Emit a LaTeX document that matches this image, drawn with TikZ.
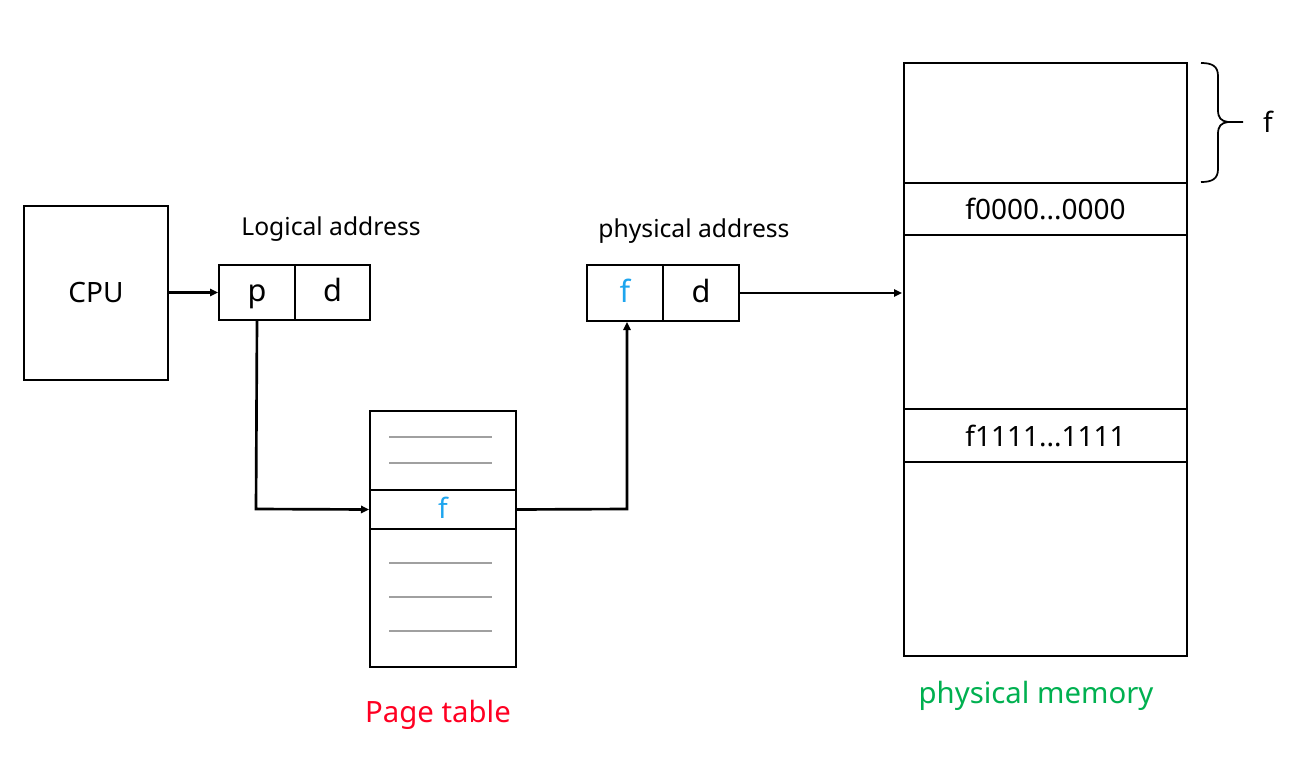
\documentclass[tikz,border=0pt]{standalone}
\usepackage{fontspec}
\setmainfont{Noto Sans}
\usetikzlibrary{arrows.meta}
\definecolor{fblue}{HTML}{1EA5EE}
\definecolor{pgred}{HTML}{FF0022}
\definecolor{pmgreen}{HTML}{00B050}
\definecolor{rowgray}{HTML}{A0A0A0}
\tikzset{
  box/.style={draw, line width=1.5pt, inner sep=0pt, anchor=north west},
  lbl/.style={font=\fontsize{18.5}{21}\selectfont},
  mid/.style={font=\fontsize{21}{24}\selectfont},
  cell/.style={font=\fontsize{23}{26}\selectfont, text height=13.5pt, text depth=0pt},
  ptcell/.style={font=\fontsize{21}{24}\selectfont, text height=14pt, text depth=0pt},
  big/.style={font=\fontsize{22}{25}\selectfont},
  conn/.style={line width=2pt, -{Triangle[length=6pt,width=5.5pt]}},
  grayline/.style={draw=rowgray, line width=1pt},
}
\begin{document}
\begin{tikzpicture}[x=0.75pt,y=-0.75pt]
\useasboundingbox (0,0) rectangle (1296,778);
% CPU
\node[box, minimum width=144*0.75pt, minimum height=174*0.75pt, mid] (cpu) at (23,205) {CPU};
% logical address
\node[box, minimum width=76*0.75pt, minimum height=55*0.75pt, cell] (p) at (218,264) {p};
\node[box, minimum width=75*0.75pt, minimum height=55*0.75pt, cell] (d) at (294,264) {d};
\node[lbl] (la) at (331,229) {Logical address};
% physical address
\node[box, minimum width=76*0.75pt, minimum height=56*0.75pt, cell, text=fblue] (pf) at (586,264) {f};
\node[box, minimum width=76*0.75pt, minimum height=56*0.75pt, cell] (pd) at (662,264) {d};
\node[lbl] (pa) at (694,231) {physical address};
% page table
\node[box, minimum width=146*0.75pt, minimum height=79*0.75pt] (pt0) at (369,410) {};
\node[box, minimum width=146*0.75pt, minimum height=39*0.75pt, ptcell, text=fblue] (ptf) at (369,489) {f};
\node[box, minimum width=146*0.75pt, minimum height=138*0.75pt] (pt1) at (369,528) {};
\foreach \yy/\nm in {437/g1,463/g2,563/g3,597/g4,631/g5}{
  \coordinate (\nm a) at (389,\yy);
  \coordinate (\nm b) at (492,\yy);
  \draw[grayline] (\nm a) -- (\nm b);
}
\node[big, text=pgred] (ptl) at (438,715) {Page table};
% physical memory
\node[box, minimum width=283*0.75pt, minimum height=120*0.75pt] (m0) at (903,62) {};
\node[box, minimum width=283*0.75pt, minimum height=52*0.75pt, mid] (m1) at (903,182) {f0000...0000};
\node[box, minimum width=283*0.75pt, minimum height=174*0.75pt] (m2) at (903,234) {};
\node[box, minimum width=283*0.75pt, minimum height=53*0.75pt, mid] (m3) at (903,408) {f1111...1111};
\node[box, minimum width=283*0.75pt, minimum height=194*0.75pt] (m4) at (903,461) {};
\node[big, text=pmgreen] (pml) at (1036,696) {physical memory};
% brace
\draw[line width=1.3pt]
  (1201,63) .. controls (1212,63) and (1218,66) .. (1218,76) -- (1218,110)
  .. controls (1218,118) and (1221,121) .. (1228,122) -- (1243,122);
\draw[line width=1.3pt]
  (1201,182) .. controls (1212,182) and (1218,179) .. (1218,169) -- (1218,134)
  .. controls (1218,126) and (1221,123) .. (1228,122);
\node[mid] (bf) at (1268,122) {f};
% connectors
\coordinate (c1) at (256,509);
\coordinate (c2) at (627,509);
\draw[conn] (cpu.east |- p.west) -- (p.west);
\draw[conn] (p.south) -- (c1) -- (ptf.west);
\draw[conn] (ptf.east) -- (c2) -- (c2 |- pf.south);
\coordinate (mt) at (902,293);
\draw[conn] (pd.east) -- (mt);
\end{tikzpicture}
\end{document}
